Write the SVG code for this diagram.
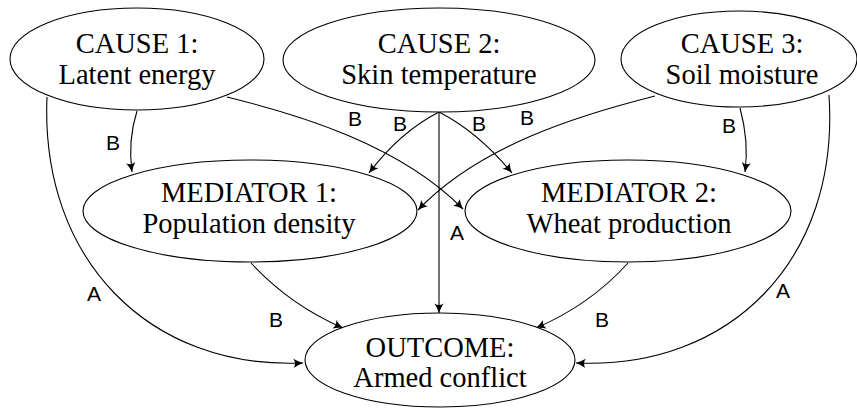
<svg xmlns="http://www.w3.org/2000/svg" width="857" height="408" viewBox="0 0 857 408">
  <style>
    .node ellipse { fill: #ffffff; stroke: #000000; stroke-width: 1.1; }
    .node text { font-family: "Liberation Serif", "Times New Roman", serif; font-size: 28.5px; fill: #000000; text-anchor: middle; }
    .edge path { fill: none; stroke: #000000; stroke-width: 1.1; }
    .edge path.arrow { marker-end: url(#tip); }
    .lbl { font-family: "Liberation Sans", Arial, sans-serif; font-size: 21px; fill: #000000; text-anchor: middle; }
  </style>
  <defs>
    <marker id="tip" viewBox="-11 -6 12 12" refX="0" refY="0" markerWidth="12" markerHeight="12" orient="auto" markerUnits="userSpaceOnUse">
      <path d="M0,0 Q-5,-1.6 -9.5,-4.6 Q-6.5,0 -9.5,4.6 Q-5,1.6 0,0 Z" fill="#000000"/>
    </marker>
  </defs>

  <rect width="857" height="408" fill="#ffffff"/>

  <!-- connectors (drawn first so nodes sit on top) -->
  <g id="connectors" class="edge">
    <!-- Cause 1 -> Mediator 1 -->
    <path class="arrow" d="M137,111 C131,130 129,150 132,172"/>
    <!-- Cause 1 -> Mediator 2 -->
    <path class="arrow" d="M227,97 C300,115 400,145 463,209"/>
    <!-- Cause 3 -> Mediator 1 -->
    <path class="arrow" d="M655,96 C580,115 480,145 418,210"/>
    <!-- Cause 3 -> Mediator 2 -->
    <path class="arrow" d="M740,108 C746,130 748,150 745,172"/>
    <!-- Cause 2 -> Mediator 1 -->
    <path class="arrow" d="M439,112 Q400,132 369,173"/>
    <!-- Cause 2 -> Mediator 2 -->
    <path class="arrow" d="M439,112 Q478,132 512,173"/>
    <!-- Cause 2 -> Outcome -->
    <path class="arrow" d="M439,112 L439,313"/>
    <!-- Mediator 1 -> Outcome -->
    <path class="arrow" d="M251,263 Q290,305 343,328"/>
    <!-- Mediator 2 -> Outcome -->
    <path class="arrow" d="M628,263 Q590,305 536,328"/>
    <!-- Cause 1 -> Outcome -->
    <path class="arrow" d="M47,97 C40,260 150,370 303,363"/>
    <!-- Cause 3 -> Outcome -->
    <path class="arrow" d="M829,95 C840,260 730,370 576,363"/>

    <!-- edge labels -->
    <text class="lbl" x="113" y="150">B</text>
    <text class="lbl" x="355" y="126">B</text>
    <text class="lbl" x="400" y="131">B</text>
    <text class="lbl" x="479" y="131">B</text>
    <text class="lbl" x="527" y="125">B</text>
    <text class="lbl" x="729" y="133">B</text>
    <text class="lbl" x="457" y="240">A</text>
    <text class="lbl" x="94" y="301">A</text>
    <text class="lbl" x="276" y="327">B</text>
    <text class="lbl" x="602" y="327">B</text>
    <text class="lbl" x="783" y="298">A</text>
  </g>

  <g id="cause1" class="node">
    <ellipse cx="137" cy="59" rx="127" ry="51"/>
    <text x="137" y="53">CAUSE 1:</text>
    <text x="137" y="84">Latent energy</text>
  </g>

  <g id="cause2" class="node">
    <ellipse cx="439" cy="60" rx="156" ry="52"/>
    <text x="439" y="53">CAUSE 2:</text>
    <text x="439" y="84">Skin temperature</text>
  </g>

  <g id="cause3" class="node">
    <ellipse cx="739" cy="59" rx="118" ry="48"/>
    <text x="742" y="53">CAUSE 3:</text>
    <text x="742" y="84">Soil moisture</text>
  </g>

  <g id="mediator1" class="node">
    <ellipse cx="250" cy="211" rx="167" ry="51"/>
    <text x="249" y="202">MEDIATOR 1:</text>
    <text x="249" y="233">Population density</text>
  </g>

  <g id="mediator2" class="node">
    <ellipse cx="628" cy="211" rx="163" ry="51"/>
    <text x="629" y="202">MEDIATOR 2:</text>
    <text x="629" y="233">Wheat production</text>
  </g>

  <g id="outcome" class="node">
    <ellipse cx="440" cy="360" rx="135" ry="47"/>
    <text x="440" y="357">OUTCOME:</text>
    <text x="440" y="387">Armed conflict</text>
  </g>
</svg>
